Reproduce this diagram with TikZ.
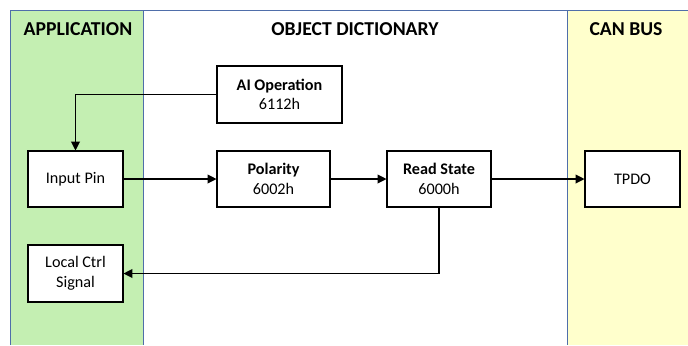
\documentclass[tikz,border=0pt]{standalone}
\usepackage{fontspec}
\setmainfont{Carlito}
\usepackage{xcolor}
\definecolor{appgreen}{RGB}{196,239,178}
\definecolor{busyellow}{RGB}{255,255,204}
\definecolor{laneline}{RGB}{79,110,170}
\usepackage{tikz}
\usetikzlibrary{positioning,arrows.meta}

\begin{document}
\begin{tikzpicture}[x=0.025cm,y=-0.025cm,
      block/.style={rectangle,draw,line width=0.75pt,fill=white,minimum height=1.4cm,
                    align=center,font=\fontsize{11.5}{14}\selectfont,inner sep=1pt},
      head/.style={font=\fontsize{14}{16}\selectfont\bfseries},
      flow/.style={-{Triangle[length=2.2mm,width=2.2mm]},line width=0.75pt}]
    \useasboundingbox (0,0) rectangle (688,345);
    % lanes
    \fill[appgreen] (10,10) rectangle (143,345);
    \fill[busyellow] (567,10) rectangle (688,345);
    \draw[laneline,line width=0.6pt] (10,345) -- (10,10) -- (688,10);
    \draw[laneline,line width=0.6pt] (143,10) -- (143,345);
    \draw[laneline,line width=0.6pt] (567,10) -- (567,345);
    \node[head] (happ) at (78,29) {APPLICATION};
    \node[head] (hod) at (355,29) {OBJECT DICTIONARY};
    \node[head] (hbus) at (626,29) {CAN BUS};
    % blocks
    \node[block,minimum width=3.125cm,minimum height=1.425cm] (aiop) at (279.5,94.5) {\textbf{AI Operation}\\6112h};
    \node[block,minimum width=2.375cm] (inpin) at (75.5,179) {Input Pin};
    \node[block,minimum width=2.825cm] (polar) at (273.5,179) {\textbf{Polarity}\\6002h};
    \node[block,minimum width=2.6cm] (rdstate) at (439,179) {\textbf{Read State}\\6000h};
    \node[block,minimum width=2.375cm] (tpdo) at (632.5,179) {TPDO};
    \node[block,minimum width=2.375cm,minimum height=1.425cm] (lctrl) at (75.5,273.5) {Local Ctrl\\Signal};
    % connectors
    \draw[flow] (aiop.west) -| (inpin.north);
    \draw[flow] (inpin) -- (polar);
    \draw[flow] (polar) -- (rdstate);
    \draw[flow] (rdstate) -- (tpdo);
    \draw[flow] (rdstate.south) |- (lctrl.east);
\end{tikzpicture}
\end{document}
